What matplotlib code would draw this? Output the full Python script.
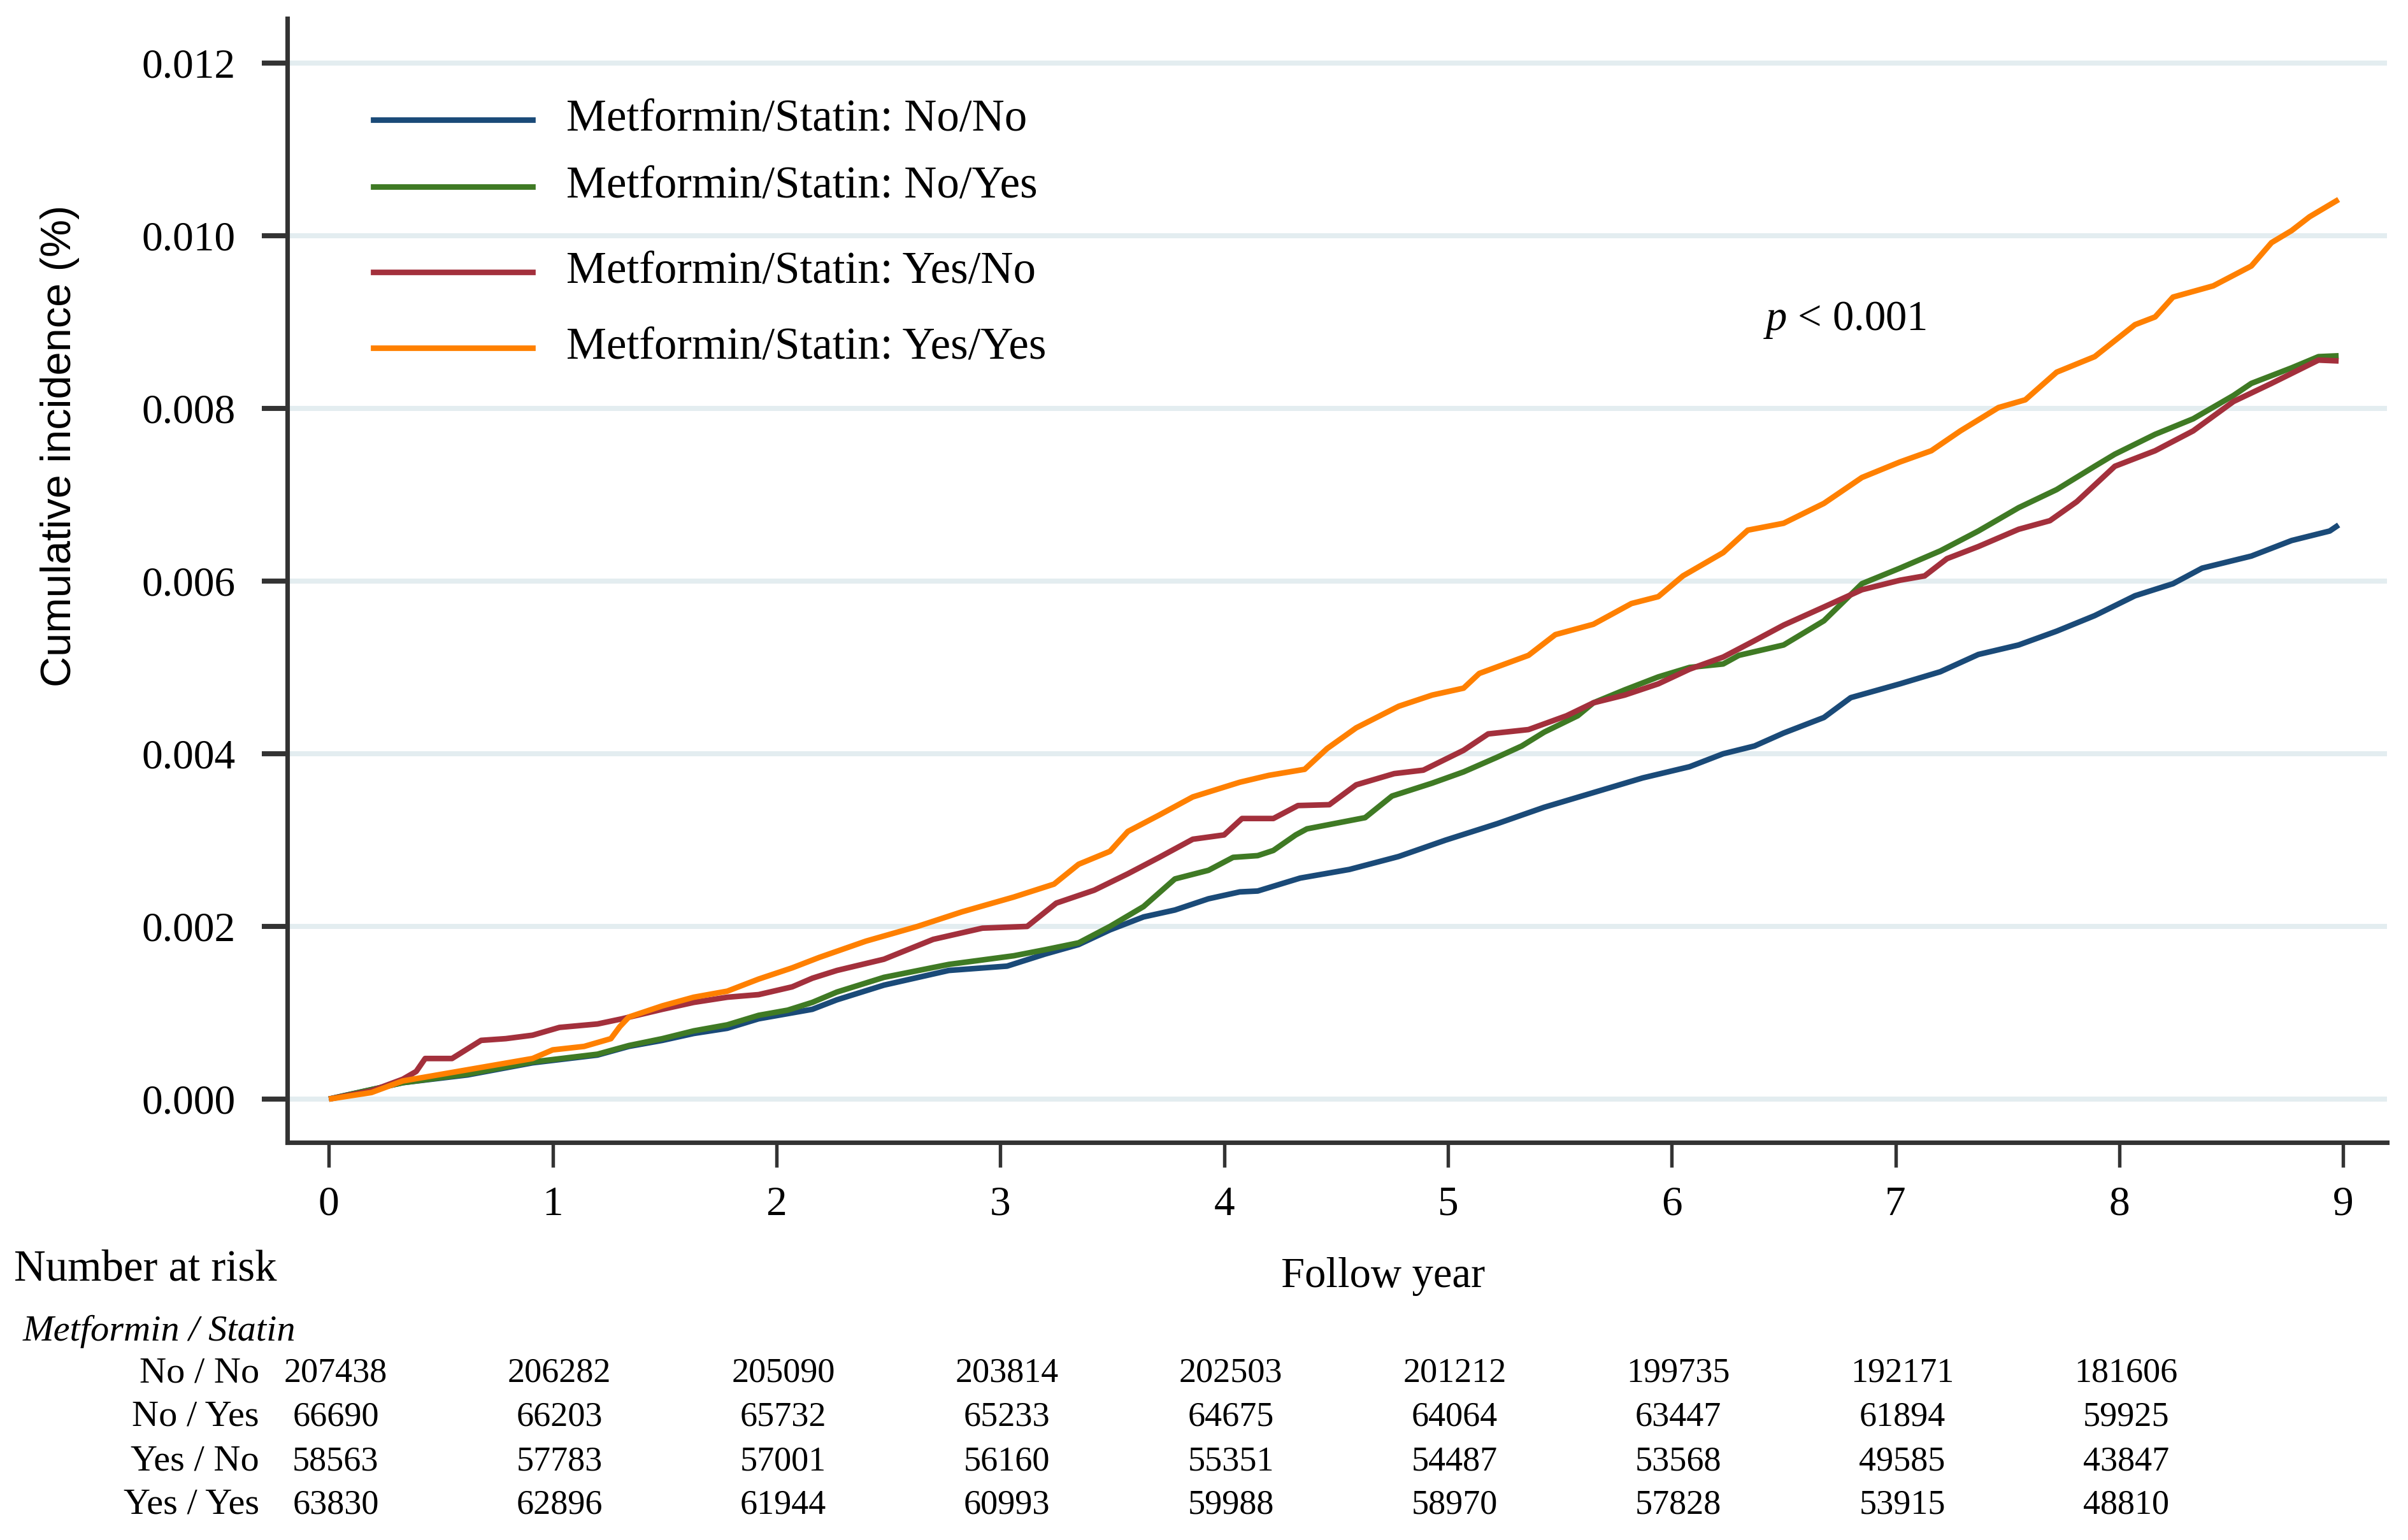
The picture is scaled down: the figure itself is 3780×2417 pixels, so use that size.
import matplotlib
matplotlib.use("Agg")
import matplotlib.pyplot as plt
from matplotlib.lines import Line2D
import matplotlib.transforms as mtransforms

# ---------------- data ----------------
series_labels = ["Metformin/Statin: No/No", "Metformin/Statin: No/Yes",
                 "Metformin/Statin: Yes/No", "Metformin/Statin: Yes/Yes"]
series_colors = ["#1a4a78", "#3f7a24", "#a3303c", "#ff8000"]

t_nono = [0, 0.33, 0.62, 0.91, 1.2, 1.34, 1.49, 1.63, 1.78, 1.92, 2.16, 2.27, 2.48, 2.77,
          3.03, 3.20, 3.35, 3.49, 3.64, 3.78, 3.93, 4.07, 4.15, 4.34, 4.56, 4.78, 4.99, 5.22,
          5.43, 5.65, 5.87, 6.08, 6.23, 6.37, 6.50, 6.68, 6.80, 7.02, 7.20, 7.37, 7.55, 7.72,
          7.89, 8.07, 8.24, 8.37, 8.59, 8.77, 8.94, 8.98]
v_nono = [0, 0.00019, 0.00028, 0.00042, 0.00051, 0.00061, 0.00068, 0.00076, 0.00082, 0.00093,
          0.00104, 0.00115, 0.00132, 0.00149, 0.00154, 0.00168, 0.00179, 0.00196, 0.00211,
          0.00219, 0.00232, 0.00240, 0.00241, 0.00256, 0.00266, 0.00281, 0.00300, 0.00319,
          0.00338, 0.00355, 0.00372, 0.00385, 0.00400, 0.00409, 0.00424, 0.00442, 0.00465,
          0.00481, 0.00495, 0.00515, 0.00526, 0.00542, 0.00560, 0.00583, 0.00597, 0.00615,
          0.00629, 0.00647, 0.00658, 0.00665]

t_noyes = [0, 0.33, 0.62, 0.91, 1.2, 1.34, 1.49, 1.63, 1.78, 1.92, 2.05, 2.16, 2.27, 2.48,
           2.77, 3.06, 3.20, 3.35, 3.49, 3.64, 3.78, 3.93, 4.04, 4.15, 4.22, 4.32, 4.37, 4.63,
           4.75, 4.93, 5.07, 5.22, 5.33, 5.43, 5.58, 5.65, 5.79, 5.94, 6.08, 6.23, 6.30, 6.50,
           6.68, 6.85, 7.02, 7.20, 7.37, 7.55, 7.72, 7.89, 7.98, 8.16, 8.33, 8.51, 8.59, 8.77,
           8.89, 8.98]
v_noyes = [0, 0.00019, 0.00029, 0.00043, 0.00052, 0.00062, 0.00070, 0.00079, 0.00086, 0.00097,
           0.00103, 0.00112, 0.00124, 0.00141, 0.00156, 0.00166, 0.00173, 0.00181, 0.00200,
           0.00223, 0.00255, 0.00265, 0.00280, 0.00282, 0.00288, 0.00306, 0.00313, 0.00326,
           0.00351, 0.00366, 0.00379, 0.00396, 0.00409, 0.00425, 0.00444, 0.00459, 0.00474,
           0.00489, 0.00500, 0.00504, 0.00514, 0.00526, 0.00554, 0.00597, 0.00615, 0.00635,
           0.00658, 0.00685, 0.00706, 0.00733, 0.00747, 0.00770, 0.00788, 0.00815, 0.00829,
           0.00847, 0.00860, 0.00861]

t_yesno = [0, 0.19, 0.33, 0.39, 0.43, 0.55, 0.68, 0.79, 0.91, 1.03, 1.2, 1.31, 1.49, 1.63,
           1.78, 1.92, 2.07, 2.16, 2.27, 2.48, 2.70, 2.92, 3.12, 3.25, 3.42, 3.57, 3.71, 3.86,
           4.0, 4.08, 4.22, 4.33, 4.47, 4.59, 4.76, 4.89, 5.07, 5.18, 5.36, 5.53, 5.65, 5.79,
           5.94, 6.08, 6.23, 6.37, 6.50, 6.68, 6.85, 7.02, 7.13, 7.23, 7.37, 7.55, 7.69, 7.81,
           7.98, 8.16, 8.33, 8.51, 8.68, 8.89, 8.98]
v_yesno = [0, 0.000095, 0.00023, 0.00032, 0.00047, 0.00047, 0.00068, 0.00070, 0.00074, 0.00083,
           0.00087, 0.00093, 0.00104, 0.00112, 0.00118, 0.00121, 0.00130, 0.00140, 0.00149,
           0.00162, 0.00185, 0.00198, 0.00200, 0.00227, 0.00242, 0.00261, 0.00280, 0.00301,
           0.00306, 0.00325, 0.00325, 0.00340, 0.00341, 0.00364, 0.00377, 0.00381, 0.00404,
           0.00423, 0.00428, 0.00444, 0.00459, 0.00468, 0.00481, 0.00498, 0.00512, 0.00531,
           0.00549, 0.00570, 0.00590, 0.00601, 0.00606, 0.00626, 0.00640, 0.00660, 0.00670,
           0.00692, 0.00733, 0.00751, 0.00774, 0.00808, 0.00829, 0.00856, 0.00855]

t_yesyes = [0, 0.19, 0.33, 0.62, 0.91, 1.0, 1.14, 1.26, 1.30, 1.34, 1.49, 1.63, 1.78, 1.92,
            2.07, 2.19, 2.40, 2.63, 2.83, 3.06, 3.24, 3.35, 3.49, 3.57, 3.71, 3.86, 4.07, 4.20,
            4.36, 4.46, 4.59, 4.78, 4.93, 5.07, 5.14, 5.36, 5.48, 5.65, 5.82, 5.94, 6.05, 6.23,
            6.34, 6.50, 6.68, 6.85, 7.02, 7.16, 7.29, 7.46, 7.58, 7.72, 7.89, 8.07, 8.16, 8.24,
            8.42, 8.59, 8.68, 8.77, 8.85, 8.98]
v_yesyes = [0, 0.000076, 0.00021, 0.00034, 0.00047, 0.00057, 0.00061, 0.00070, 0.00084, 0.00095,
            0.00108, 0.00118, 0.00125, 0.00139, 0.00152, 0.00164, 0.00183, 0.00200, 0.00217,
            0.00234, 0.00249, 0.00272, 0.00287, 0.00310, 0.00329, 0.00350, 0.00367, 0.00375,
            0.00382, 0.00406, 0.00430, 0.00455, 0.00468, 0.00476, 0.00493, 0.00514, 0.00538,
            0.00550, 0.00574, 0.00582, 0.00606, 0.00633, 0.00659, 0.00667, 0.00690, 0.00720,
            0.00738, 0.00751, 0.00774, 0.00801, 0.00810, 0.00842, 0.00860, 0.00897, 0.00906,
            0.00929, 0.00942, 0.00965, 0.00992, 0.01006, 0.01022, 0.01042]

x_ticks = [0, 1, 2, 3, 4, 5, 6, 7, 8, 9]
y_ticks = [0.000, 0.002, 0.004, 0.006, 0.008, 0.010, 0.012]
y_tick_labels = ["0.000", "0.002", "0.004", "0.006", "0.008", "0.010", "0.012"]

risk_groups = ["No / No", "No / Yes", "Yes / No", "Yes / Yes"]
risk_times = [0, 1, 2, 3, 4, 5, 6, 7, 8]
risk_nono = [207438, 206282, 205090, 203814, 202503, 201212, 199735, 192171, 181606]
risk_noyes = [66690, 66203, 65732, 65233, 64675, 64064, 63447, 61894, 59925]
risk_yesno = [58563, 57783, 57001, 56160, 55351, 54487, 53568, 49585, 43847]
risk_yesyes = [63830, 62896, 61944, 60993, 59988, 58970, 57828, 53915, 48810]

# ---------------- figure ----------------
W, H = 3780, 2417
DPI = 300
SERIF = ["Liberation Serif", "DejaVu Serif"]
plt.rcParams["font.family"] = SERIF
plt.rcParams["mathtext.fontset"] = "custom"
plt.rcParams["mathtext.it"] = "Liberation Serif:italic"
plt.rcParams["mathtext.rm"] = "Liberation Serif"

fig = plt.figure(figsize=(W / DPI, H / DPI), dpi=DPI)

def fx(px):
    return px / W

def fy(py):
    return 1 - py / H

ax_l, ax_r, ax_t, ax_b = 451, 3747, 29, 1793
ax = fig.add_axes([fx(ax_l), fy(ax_b), fx(ax_r - ax_l), (ax_b - ax_t) / H])

ax.set_xlim(-0.186, 9.196)
ax.set_ylim(-0.000502, 0.012517)

ax.set_yticks(y_ticks)
ax.set_yticklabels(y_tick_labels)
ax.set_xticks(x_ticks)
ax.tick_params(axis="y", direction="out", length=9.5, width=1.9, color="#333333",
               pad=10, labelsize=15.7)
ax.tick_params(axis="x", direction="out", length=9.4, width=1.3, color="#333333",
               pad=7, labelsize=15.7)

for s in ["top", "right"]:
    ax.spines[s].set_visible(False)
for s in ["left", "bottom"]:
    ax.spines[s].set_linewidth(1.7)
    ax.spines[s].set_color("#333333")

ax.yaxis.grid(True, color="#e3edf0", linewidth=1.9, zorder=0)
ax.set_axisbelow(True)

series = [(t_nono, v_nono), (t_noyes, v_noyes), (t_yesno, v_yesno), (t_yesyes, v_yesyes)]
for (tt, vv), c, lab in zip(series, series_colors, series_labels):
    ax.plot(tt, vv, color=c, lw=2.1, solid_joinstyle="round", solid_capstyle="butt",
            label=lab, zorder=3)

# manual legend
leg_y = [188, 293, 427, 546]
for y, c, lab in zip(leg_y, series_colors, series_labels):
    fig.add_artist(Line2D([fx(586), fx(836)], [fy(y), fy(y)], transform=fig.transFigure,
                          color=c, lw=2.1))
    fig.text(fx(889), fy(y), lab, fontsize=17, va="center", ha="left")

fig.text(fx(2768), fy(503), "$p$ < 0.001", fontsize=16, va="center", ha="left")

# y label
fig.text(fx(94), fy(700), "Cumulative incidence (%)", rotation=90, fontsize=16,
         va="center", ha="center", family=["Liberation Sans", "DejaVu Sans"])

# bottom texts
fig.text(fx(2171), fy(2004), "Follow year", fontsize=16, va="center", ha="center")
fig.text(fx(22), fy(1993), "Number at risk", fontsize=16.5, va="center", ha="left")
fig.text(fx(36), fy(2090), "Metformin / Statin", fontsize=14, style="italic",
         va="center", ha="left")

row_y = [2155, 2224, 2294, 2362]
risk_rows = [risk_nono, risk_noyes, risk_yesno, risk_yesyes]
blend = mtransforms.blended_transform_factory(ax.transData, fig.transFigure)
for y, g, row in zip(row_y, risk_groups, risk_rows):
    fig.text(fx(407), fy(y), g, fontsize=14, va="center", ha="right")
    for tval, n in zip(risk_times, row):
        ax.text(tval + 0.03, fy(y), str(n), transform=blend, fontsize=13,
                va="center", ha="center", clip_on=False)

fig.savefig("out.png", dpi=DPI)
